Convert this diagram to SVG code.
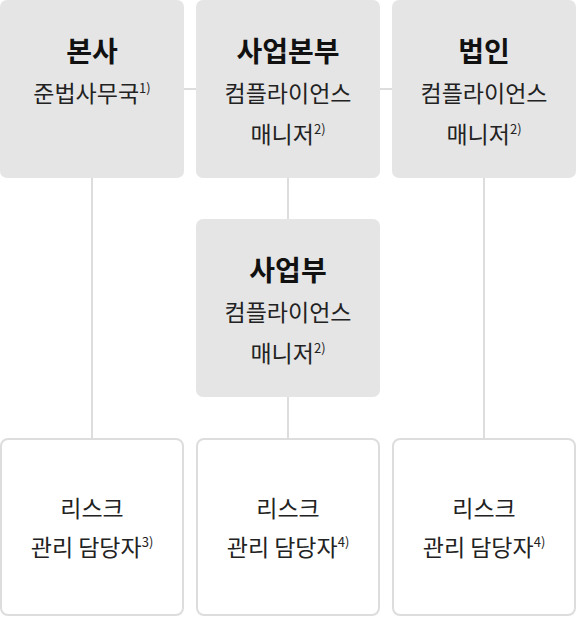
<svg xmlns="http://www.w3.org/2000/svg" width="576" height="617" viewBox="0 0 576 617">
<style>
.g{fill:#e5e5e5}
.w{fill:#fff;stroke:#dddddd;stroke-width:2}
.ln{stroke:#dddddd;stroke-width:2;fill:none}
text{font-family:"Noto Sans CJK KR","Noto Sans",sans-serif;fill:#222;text-anchor:middle}
.t{font-size:28px;font-weight:700;fill:#111}
.s{font-size:23px}
.sup{font-size:13px}
</style>
<rect width="576" height="617" fill="#fff"/>
<g id="connectors">
<line class="ln" x1="184" y1="89" x2="196" y2="89"/>
<line class="ln" x1="380" y1="89" x2="392" y2="89"/>
<line class="ln" x1="92" y1="178" x2="92" y2="439"/>
<line class="ln" x1="288" y1="178" x2="288" y2="219"/>
<line class="ln" x1="288" y1="397" x2="288" y2="439"/>
<line class="ln" x1="484" y1="178" x2="484" y2="439"/>
</g>
<g id="n1">
<rect class="g" x="0" y="0" width="184" height="178" rx="7"/>
<text class="t" x="92" y="62">본사</text>
<text class="s" x="92" y="102">준법사무국<tspan class="sup" dy="-9">1)</tspan></text>
</g>
<g id="n2">
<rect class="g" x="196" y="0" width="184" height="178" rx="7"/>
<text class="t" x="288" y="62">사업본부</text>
<text class="s" x="288" y="102">컴플라이언스</text>
<text class="s" x="288" y="143">매니저<tspan class="sup" dy="-9">2)</tspan></text>
</g>
<g id="n3">
<rect class="g" x="392" y="0" width="184" height="178" rx="7"/>
<text class="t" x="484" y="62">법인</text>
<text class="s" x="484" y="102">컴플라이언스</text>
<text class="s" x="484" y="143">매니저<tspan class="sup" dy="-9">2)</tspan></text>
</g>
<g id="n4">
<rect class="g" x="196" y="219" width="184" height="178" rx="7"/>
<text class="t" x="288" y="281">사업부</text>
<text class="s" x="288" y="321">컴플라이언스</text>
<text class="s" x="288" y="362">매니저<tspan class="sup" dy="-9">2)</tspan></text>
</g>
<g id="n5">
<rect class="w" x="1" y="439" width="182" height="176" rx="7"/>
<text class="s" x="92" y="517">리스크</text>
<text class="s" x="92" y="556">관리 담당자<tspan class="sup" dy="-9">3)</tspan></text>
</g>
<g id="n6">
<rect class="w" x="197" y="439" width="182" height="176" rx="7"/>
<text class="s" x="288" y="517">리스크</text>
<text class="s" x="288" y="556">관리 담당자<tspan class="sup" dy="-9">4)</tspan></text>
</g>
<g id="n7">
<rect class="w" x="393" y="439" width="182" height="176" rx="7"/>
<text class="s" x="484" y="517">리스크</text>
<text class="s" x="484" y="556">관리 담당자<tspan class="sup" dy="-9">4)</tspan></text>
</g>
</svg>
